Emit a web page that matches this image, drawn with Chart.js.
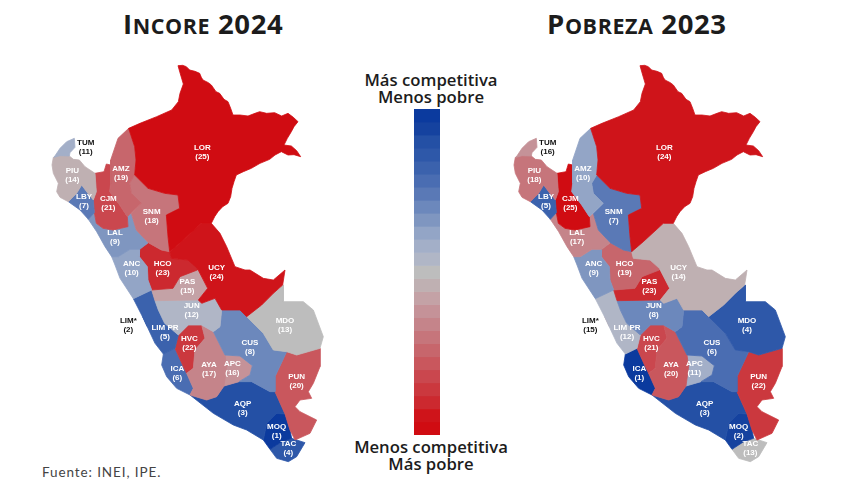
<!DOCTYPE html>
<html>
<head>
<meta charset="utf-8">
<title>Incore 2024 / Pobreza 2023</title>
<script src="https://cdn.jsdelivr.net/npm/chart.js@4"></script>
<style>
  html, body { margin: 0; padding: 0; background: #fff; }
  body { width: 860px; height: 484px; position: relative; overflow: hidden; font-family: 'Open Sans', sans-serif; color: #1c1c1c; }
  canvas { position: absolute; }
  #map-left { left: 40px; top: 60px; }
  #map-right { left: 502px; top: 60px; }
  #scale-bar { left: 414px; top: 109px; }
  .title { position: absolute; top: 6px; font-size: 27.5px; font-weight: 700; line-height: 36px; white-space: nowrap; }
  .title span { font-size: 21.5px; }
  .key { position: absolute; left: 331px; width: 200px; text-align: center; font-size: 16.7px; font-weight: 600; line-height: 17px; }
  .source { position: absolute; left: 42px; top: 464px; font-size: 13.5px; color: #444; font-family: Lato, sans-serif; letter-spacing: .9px; }
</style>
</head>
<body>
<div class="title" style="left:123px;letter-spacing:.6px">I<span>NCORE</span> 2024</div>
<div class="title" style="left:547px;letter-spacing:.6px">P<span>OBREZA</span> 2023</div>
<div class="key" style="top:71px">Más competitiva<br>Menos pobre</div>
<div class="key" style="top:438px">Menos competitiva<br>Más pobre</div>
<div class="source">Fuente: INEI, IPE.</div>
<canvas id="map-left" width="300" height="420"></canvas>
<canvas id="map-right" width="300" height="420"></canvas>
<canvas id="scale-bar" width="26" height="326"></canvas>

<script>
// ─── DATA ────────────────────────────────────────────────────────

const regionCodes = ['LOR','TUM','PIU','LBY','AMZ','CJM','SNM','LAL','ANC','UCY','HCO','PAS','JUN','LIM PR','LIM*','MDO','CUS','AYA','APC','HVC','ICA','PUN','AQP','MOQ','TAC'];
const incoreRanks  = [25,11,14,7,19,21,18,9,10,24,23,15,12,5,2,13,8,17,16,22,6,20,3,1,4];
const pobrezaRanks = [24,16,18,5,10,25,7,17,9,14,19,23,8,12,15,4,6,20,11,21,1,22,3,2,13];

// one colour per rank, 1 at the top of the scale bar, 25 at the bottom
const rankColors = ['#0b3a9e','#15429f','#2450a5','#2e58a9','#3b62ad','#4a6db2','#5a79b6','#6c88bc','#7f96c0','#93a5c6','#a3afc8','#b0b6c6','#bdbdbd','#bfb0b2','#c4a2a6','#c59298','#c5848a','#c6757b','#c7666c','#c9575d','#ca474e','#cb383e','#cc292f','#cf141a','#d00c12'];
const scaleSteps = [1,1,1,1,1,1,1,1,1,1,1,1,1,1,1,1,1,1,1,1,1,1,1,1,1];

// region outlines (map units, about 3 per pixel)
const shapeLOR = [[414,17],[428,16],[439,20],[449,30],[465,34],[479,40],[484,52],[489,60],[505,68],[514,75],[528,95],[539,100],[552,118],[564,125],[572,145],[579,165],[600,165],[624,168],[645,160],[659,155],[680,160],[704,158],[725,168],[744,160],[760,172],[774,185],[762,200],[754,215],[742,235],[732,255],[754,258],[770,272],[782,290],[762,284],[744,285],[724,275],[705,285],[689,298],[660,310],[634,325],[610,335],[589,345],[582,365],[576,385],[572,410],[564,430],[548,440],[534,455],[524,470],[514,490],[484,490],[424,545],[389,575],[384,530],[379,465],[419,445],[414,405],[374,400],[324,385],[284,345],[288,300],[284,260],[266,205],[300,190],[350,170],[395,150],[415,125],[420,100],[430,72],[422,45],[414,17]];
const shapeTUM = [[103,235],[105,262],[90,278],[88,288],[60,287],[42,292],[60,265],[80,245],[103,235]];
const shapePIU = [[40,292],[60,285],[88,288],[100,298],[118,300],[135,320],[165,340],[169,395],[160,420],[140,395],[125,375],[110,400],[85,425],[60,412],[50,395],[55,370],[40,340],[36,315],[40,292]];
const shapeLBY = [[125,375],[140,395],[160,420],[163,458],[145,478],[120,450],[85,425],[110,400],[125,375]];
const shapeAMZ = [[266,205],[234,235],[212,300],[212,370],[209,395],[239,435],[262,470],[304,430],[274,400],[269,370],[284,345],[288,300],[284,260],[266,205]];
const shapeCJM = [[199,312],[212,315],[212,370],[209,395],[239,435],[262,470],[264,500],[219,510],[189,505],[169,490],[163,458],[160,420],[169,395],[165,340],[192,335],[199,312]];
const shapeSNM = [[269,370],[284,345],[324,385],[374,400],[414,405],[419,445],[379,465],[384,530],[389,575],[364,570],[325,548],[289,510],[274,460],[304,430],[274,400],[269,370]];
const shapeLAL = [[145,478],[163,458],[169,490],[189,505],[219,510],[264,500],[262,470],[274,460],[289,510],[325,548],[299,568],[270,568],[235,590],[215,590],[195,560],[170,515],[145,478]];
const shapeANC = [[215,590],[235,590],[270,568],[299,568],[298,590],[322,620],[324,660],[335,690],[280,716],[240,655],[225,615],[215,590]];
const shapeUCY = [[389,575],[424,545],[484,490],[514,490],[540,520],[560,560],[585,620],[615,630],[630,630],[670,655],[700,660],[735,630],[728,675],[700,700],[665,735],[620,770],[600,750],[545,750],[525,715],[485,730],[475,720],[503,685],[472,625],[444,600],[394,595],[389,575]];
const shapeHCO = [[299,568],[325,548],[364,570],[389,575],[394,595],[444,600],[474,570],[472,630],[420,650],[399,685],[335,690],[324,660],[322,620],[298,590],[299,568]];
const shapePAS = [[420,650],[472,625],[503,685],[475,720],[345,722],[335,690],[399,685],[420,650]];
const shapeJUN = [[345,722],[475,720],[485,730],[525,715],[540,730],[545,750],[540,800],[520,815],[485,795],[445,795],[415,825],[374,790],[355,750],[345,722]];
const shapeLIMPR = [[280,716],[335,690],[345,722],[355,750],[374,790],[415,825],[405,865],[370,882],[345,850],[310,775],[280,716]];
const shapeLIM = [[308,770],[316,770],[328,797],[322,800],[308,770]];
const shapeMDO = [[620,770],[665,735],[700,700],[730,675],[730,725],[790,725],[820,750],[850,830],[840,865],[770,885],[740,875],[700,870],[670,820],[620,770]];
const shapeCUS = [[545,750],[600,750],[620,770],[670,820],[700,870],[740,875],[705,950],[705,995],[690,995],[635,965],[597,965],[630,945],[637,917],[600,888],[555,885],[520,815],[540,800],[545,750]];
const shapeAYA = [[485,795],[520,815],[555,885],[560,920],[552,978],[530,1010],[500,1020],[450,1005],[460,985],[440,940],[460,925],[465,870],[495,835],[485,795]];
const shapeAPC = [[555,885],[600,888],[637,917],[630,945],[597,965],[552,978],[540,955],[522,920],[555,885]];
const shapeHVC = [[445,795],[485,795],[495,835],[465,870],[460,925],[440,940],[430,920],[405,865],[415,825],[445,795]];
const shapeICA = [[370,882],[405,865],[430,920],[440,940],[460,985],[450,1005],[410,985],[380,950],[365,915],[370,882]];
const shapePUN = [[705,950],[740,875],[770,885],[840,865],[840,920],[820,970],[805,995],[815,1015],[780,1020],[765,1040],[780,1055],[830,1080],[810,1120],[765,1140],[750,1110],[735,1062],[705,995],[705,950]];
const shapeAQP = [[450,1005],[500,1020],[530,1010],[552,978],[597,965],[635,965],[690,995],[705,995],[735,1062],[710,1060],[680,1090],[670,1140],[620,1110],[580,1095],[520,1060],[450,1005]];
const shapeMOQ = [[710,1060],[735,1062],[750,1110],[755,1135],[725,1145],[690,1168],[670,1140],[680,1090],[710,1060]];
const shapeTAC = [[755,1135],[795,1148],[770,1190],[745,1205],[710,1195],[690,1168],[725,1145],[755,1135]];

const regionShapes = [shapeLOR,shapeTUM,shapePIU,shapeLBY,shapeAMZ,shapeCJM,shapeSNM,shapeLAL,shapeANC,shapeUCY,shapeHCO,shapePAS,shapeJUN,shapeLIMPR,shapeLIM,shapeMDO,shapeCUS,shapeAYA,shapeAPC,shapeHVC,shapeICA,shapePUN,shapeAQP,shapeMOQ,shapeTAC];
const labelAnchors = [[487,278],[137,262],[97,346],[132,425],[243,340],[205,430],[335,470],[225,533],[275,625],[530,638],[368,625],[442,678],[455,752],[375,817],[265,795],[735,795],[630,862],[507,928],[577,926],[448,850],[412,940],[770,963],[608,1045],[710,1113],[745,1165]];
const outsideLabels = ['TUM','LIM*'];

// ─── CHARTS ──────────────────────────────────────────────────────

const regionLabels = {
  id: 'regionLabels',
  afterDatasetsDraw(chart, args, opts) {
    const { ctx, scales: { x, y } } = chart;
    ctx.save();
    ctx.font = 'bold 8px "Liberation Sans", sans-serif';
    ctx.textAlign = 'center';
    ctx.textBaseline = 'middle';
    regionCodes.forEach((code, i) => {
      const px = x.getPixelForValue(labelAnchors[i][0]);
      const py = y.getPixelForValue(labelAnchors[i][1]);
      ctx.fillStyle = outsideLabels.includes(code) ? '#111' : '#fff';
      ctx.fillText(code, px, py - 4.4);
      ctx.fillText(`(${opts.ranks[i]})`, px, py + 4.4);
    });
    ctx.restore();
  },
};

function drawMap(canvasId, ranks) {
  new Chart(document.getElementById(canvasId), {
    type: 'scatter',
    data: {
      datasets: regionCodes.map((code, i) => ({
        label: code,
        data: regionShapes[i].map(p => ({ x: p[0], y: p[1] })),
        showLine: true,
        fill: 'shape',
        tension: 0,
        pointRadius: 0,
        borderWidth: 0.8,
        borderColor: rankColors[ranks[i] - 1],
        backgroundColor: rankColors[ranks[i] - 1],
      })),
    },
    options: {
      responsive: false,
      animation: false,
      layout: { padding: 0 },
      plugins: { legend: { display: false }, tooltip: { enabled: false }, regionLabels: { ranks } },
      scales: {
        x: { type: 'linear', display: false, min: 0, max: 900 },
        y: { type: 'linear', display: false, min: 0, max: 1260, reverse: true },
      },
    },
    plugins: [regionLabels],
  });
}

drawMap('map-left', incoreRanks);
drawMap('map-right', pobrezaRanks);

new Chart(document.getElementById('scale-bar'), {
  type: 'bar',
  data: {
    labels: ['rank'],
    datasets: scaleSteps.map((v, i) => ({
      label: String(i + 1),
      data: [v],
      backgroundColor: rankColors[i],
      borderWidth: 0,
      barPercentage: 1,
      categoryPercentage: 1,
      stack: 'scale',
    })),
  },
  options: {
    responsive: false,
    animation: false,
    layout: { padding: 0 },
    plugins: { legend: { display: false }, tooltip: { enabled: false } },
    scales: {
      x: { display: false, stacked: true },
      y: { display: false, stacked: true, min: 0, max: 25, reverse: true },
    },
  },
});
</script>
</body>
</html>
